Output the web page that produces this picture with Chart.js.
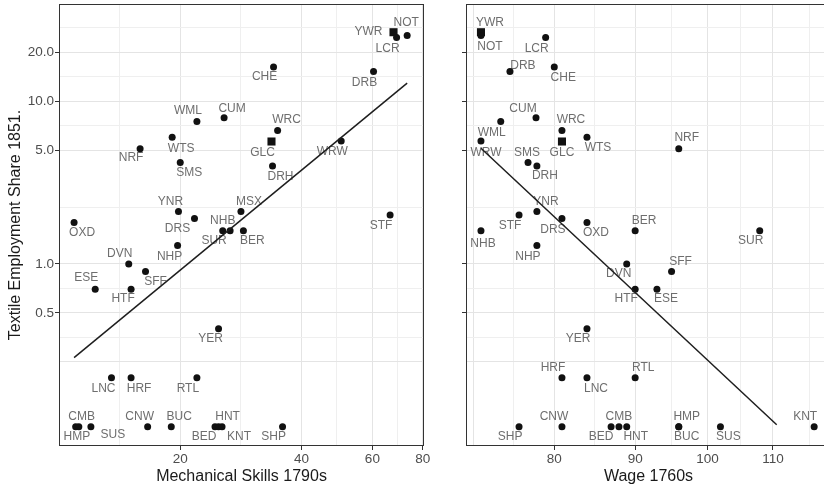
<!DOCTYPE html>
<html>
<head>
<meta charset="utf-8">
<script src="https://cdn.jsdelivr.net/npm/chart.js@4.4.1/dist/chart.umd.min.js"></script>
<style>
  html, body { margin: 0; padding: 0; background: #fff; overflow: hidden; }
  #wrap { position: relative; width: 824px; height: 490px; overflow: hidden; }
  #mechChart { position: absolute; left: 0; top: 0; }
  #wageChart { position: absolute; left: 430px; top: 0; }
</style>
</head>
<body>
<div id="wrap">
  <canvas id="mechChart" width="430" height="490"></canvas>
  <canvas id="wageChart" width="410" height="490"></canvas>
</div>
<script>
// county codes and values
const counties = ["YWR", "NOT", "LCR", "CHE", "DRB", "CUM", "WML", "WRC", "WTS", "WRW",
  "GLC", "NRF", "SMS", "DRH", "YNR", "MSX", "STF", "DRS", "OXD", "NHB",
  "SUR", "BER", "NHP", "DVN", "SFF", "ESE", "HTF", "YER", "LNC", "HRF",
  "RTL", "CMB", "HMP", "SUS", "CNW", "BUC", "BED", "HNT", "KNT", "SHP"];
const mechSkills = [67.7, 73.2, 68.9, 34.1, 60.4, 25.7, 22.0, 34.9, 19.1, 50.2,
  33.7, 15.9, 20.0, 33.9, 19.8, 28.3, 66.4, 21.7, 10.9, 25.5,
  26.6, 28.7, 19.7, 14.9, 16.4, 12.3, 15.1, 24.9, 13.5, 15.1,
  22.0, 11.0, 11.2, 12.0, 16.6, 19.0, 24.4, 24.9, 25.4, 35.9];
const wage1760 = [71.9, 71.9, 79.0, 80.0, 75.0, 77.9, 74.0, 80.9, 83.9, 71.9,
  80.9, 95.9, 77.0, 78.0, 78.0, null, 76.0, 80.9, 83.9, 71.9,
  107.9, 90.0, 78.0, 88.9, 94.9, 92.9, 90.0, 83.9, 83.9, 80.9,
  90.0, 87.9, 95.9, 101.9, 80.9, 95.9, 86.9, 88.9, 116.8, 76.0];
const textileShare = [26.5, 25.3, 24.6, 16.2, 15.2, 7.9, 7.5, 6.6, 6.0, 5.7,
  5.65, 5.1, 4.2, 4.0, 2.1, 2.1, 2.0, 1.9, 1.8, 1.6,
  1.6, 1.6, 1.3, 1.0, 0.9, 0.7, 0.7, 0.4, 0.2, 0.2,
  0.2, 0.1, 0.1, 0.1, 0.1, 0.1, 0.1, 0.1, 0.1, 0.1];
const squareCounties = ["YWR", "GLC"];

// fitted lines (end points)
const fitMechX = [10.9, 73.2];
const fitMechY = [0.266, 12.9];
const fitWageX = [71.9, 110.6];
const fitWageY = [5.14, 0.103];

// axis breaks
const yTickLabels = [0.5, 1, 5, 10, 20];
const yGridMajor = [0.25];
const yGridMinor = [0.354, 0.707, 2.236, 7.07, 14.1, 28.3];
const mechTickLabels = [20, 40, 60, 80];
const mechGridMajor = [10];
const mechGridMinor = [14.1, 28.3, 49, 69.3];
const wageTickLabels = [80, 90, 100, 110];
const wageGridMajor = [71.1];
const wageGridMinor = [75.4, 84.85, 94.87, 104.88, 116];

// label offsets from each point [dx, dy]
const labelOffsetMech = [[-25, -1], [-1, -13], [-9, 11], [-9, 10], [-9, 11], [8, -9], [-9, -11], [9, -11], [9, 11], [-9, 11],
  [-9, 11], [-9, 9], [9, 10], [8, 11], [-8, -10], [8, -10], [-9, 11], [-17, 10], [8, 10], [0, -10],
  [-16, 10], [9, 10], [-8, 11], [-9, -10], [10, 10], [-9, -11], [-8, 10], [-8, 10], [-8, 11], [8, 11],
  [-9, 11], [6, -10], [-2, 10], [22, 8], [-8, -10], [8, -10], [-11, 10], [9, -10], [17, 10], [-9, 10]];
const labelOffsetWage = [[9, -10], [9, 11], [-9, 11], [9, 11], [13, -6], [-13, -9], [-9, 11], [9, -11], [11, 10], [5, 12],
  [0, 11], [8, -11], [-1, -10], [8, 10], [9, -10], null, [-9, 11], [-9, 11], [9, 10], [2, 13],
  [-9, 10], [9, -10], [-9, 11], [-8, 10], [9, -10], [9, 10], [-9, 10], [-9, 10], [9, 11], [-9, -10],
  [8, -10], [0, -10], [8, -10], [8, 10], [-8, -10], [8, 10], [-10, 10], [9, 10], [-9, -10], [-9, 10]];

const FONT = '"Liberation Sans", Arial, Helvetica, sans-serif';
Chart.defaults.font.family = FONT;

function makePoints(xs, offsets) {
  const pts = [];
  counties.forEach((name, i) => {
    if (xs[i] == null) return;
    pts.push({ x: xs[i], y: textileShare[i], name: name, off: offsets[i] });
  });
  return pts;
}

function tickList(labels, major, minor) {
  return [...labels, ...major, ...minor].sort((a, b) => a - b).map((v) => ({ value: v }));
}

function gridColor(minor) {
  return (c) => (c.tick && minor.includes(c.tick.value) ? "#efefef" : "#e4e4e4");
}

function tickColor(labels) {
  return (c) => (c.tick && labels.includes(c.tick.value) ? "#333333" : "rgba(0,0,0,0)");
}

// panel border + county labels
const panelDecor = {
  id: "panelDecor",
  beforeDatasetsDraw(chart) {
    const { ctx, chartArea: a } = chart;
    ctx.save();
    ctx.strokeStyle = "#333333";
    ctx.lineWidth = 1;
    ctx.strokeRect(Math.round(a.left) + 0.5, Math.round(a.top) + 0.5,
      Math.round(a.right) - Math.round(a.left) - 1, Math.round(a.bottom) - Math.round(a.top) - 1);

    const pts = chart.data.datasets[1].data;
    const meta = chart.getDatasetMeta(1);
    ctx.font = "12px " + FONT;
    ctx.fillStyle = "#6e6e6e";
    ctx.textAlign = "center";
    ctx.textBaseline = "middle";
    meta.data.forEach((el, i) => {
      const o = pts[i].off;
      ctx.fillText(pts[i].name, el.x + o[0], el.y + o[1]);
    });
    ctx.restore();
  },
};

function buildChart(canvasId, cfg) {
  const isLeft = cfg.showYLabels;
  return new Chart(document.getElementById(canvasId), {
    type: "scatter",
    data: {
      datasets: [
        {
          data: cfg.fitX.map((x, i) => ({ x: x, y: cfg.fitY[i] })),
          showLine: true,
          pointRadius: 0,
          borderColor: "#1e1e1e",
          borderWidth: 1.5,
        },
        {
          data: makePoints(cfg.xs, cfg.offsets),
          backgroundColor: "#111111",
          borderWidth: 0,
          pointStyle: (c) => (c.raw && squareCounties.includes(c.raw.name) ? "rect" : "circle"),
          pointRadius: (c) => (c.raw && squareCounties.includes(c.raw.name) ? 5.7 : 3.5),
        },
      ],
    },
    options: {
      responsive: false,
      animation: false,
      events: [],
      layout: { autoPadding: false, padding: { top: 4, right: cfg.padRight, bottom: 0, left: 0 } },
      plugins: { legend: { display: false }, tooltip: { enabled: false } },
      scales: {
        x: {
          type: "logarithmic",
          min: cfg.xMin,
          max: cfg.xMax,
          bounds: "data",
          afterBuildTicks: (s) => { s.ticks = tickList(cfg.xLabels, cfg.xMajor, cfg.xMinor); },
          afterFit: (s) => { s.height = 44; s.paddingLeft = 0; s.paddingRight = 0; },
          ticks: {
            autoSkip: false,
            maxRotation: 0,
            padding: 1,
            color: "#4d4d4d",
            font: { size: 13.5 },
            callback: (v) => (cfg.xLabels.includes(v) ? String(v) : ""),
          },
          grid: { color: gridColor(cfg.xMinor), tickColor: tickColor(cfg.xLabels), tickLength: 4, lineWidth: 1 },
          border: { display: false },
          title: { display: true, text: cfg.xTitle, color: "#1a1a1a", font: { size: 16 }, padding: { top: 0, bottom: 4 } },
        },
        y: {
          type: "logarithmic",
          min: 0.0762,
          max: 39.5,
          bounds: "data",
          afterBuildTicks: (s) => { s.ticks = tickList(yTickLabels, yGridMajor, yGridMinor); },
          afterFit: (s) => { s.width = cfg.yWidth; s.paddingTop = 0; s.paddingBottom = 0; },
          ticks: {
            autoSkip: false,
            padding: 1,
            color: "#4d4d4d",
            font: { size: 13.5 },
            callback: (v) => (isLeft && yTickLabels.includes(v) ? v.toFixed(1) : ""),
          },
          grid: { color: gridColor(yGridMinor), tickColor: tickColor(yTickLabels), tickLength: 4, lineWidth: 1 },
          border: { display: false },
          title: {
            display: isLeft,
            text: "Textile Employment Share 1851.",
            color: "#1a1a1a",
            font: { size: 16 },
            padding: { top: 6, bottom: 0 },
          },
        },
      },
    },
    plugins: [panelDecor],
  });
}

buildChart("mechChart", {
  xs: mechSkills,
  offsets: labelOffsetMech,
  fitX: fitMechX,
  fitY: fitMechY,
  xMin: 10,
  xMax: 80.6,
  xLabels: mechTickLabels,
  xMajor: mechGridMajor,
  xMinor: mechGridMinor,
  xTitle: "Mechanical Skills 1790s",
  showYLabels: true,
  yWidth: 59,
  padRight: 6,
});

buildChart("wageChart", {
  xs: wage1760,
  offsets: labelOffsetWage,
  fitX: fitWageX,
  fitY: fitWageY,
  xMin: 70.35,
  xMax: 119.7,
  xLabels: wageTickLabels,
  xMajor: wageGridMajor,
  xMinor: wageGridMinor,
  xTitle: "Wage 1760s",
  showYLabels: false,
  yWidth: 36,
  padRight: 9,
});
</script>
</body>
</html>
